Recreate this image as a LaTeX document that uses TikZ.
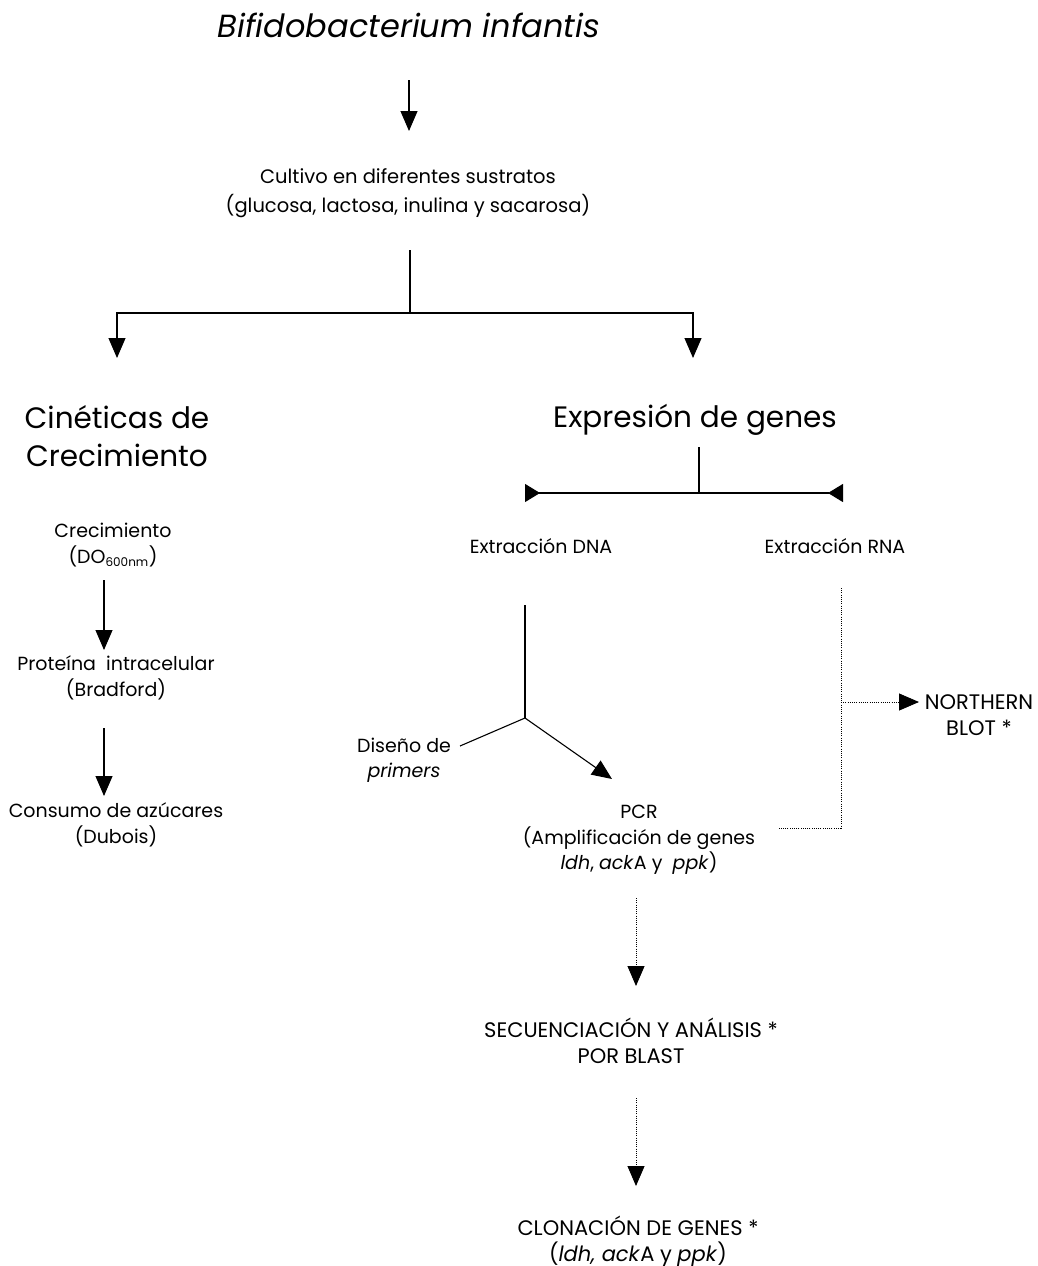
\documentclass[tikz,border=0pt]{standalone}
\usepackage{fontspec}
\setmainfont{Poppins}
\usetikzlibrary{arrows.meta}

\begin{document}
\begin{tikzpicture}[
  x=1pt, y=-1pt,
  every node/.style={font=\fontsize{19}{25.5}\selectfont, align=center, inner sep=0pt},
  caps/.style={font=\fontsize{21}{26}\selectfont},
  head/.style={font=\fontsize{29.5}{38}\selectfont},
  flow/.style={draw, line width=1.1pt, -{Triangle[width=17pt,length=20pt]}},
  link/.style={draw, line width=1.1pt},
  dotflow/.style={draw, line width=0.9pt, dash pattern=on 1pt off 1.2pt, -{Triangle[width=17pt,length=20pt]}},
  dotlink/.style={draw, line width=0.9pt, dash pattern=on 1pt off 1.2pt}
]
\useasboundingbox (0,0) rectangle (1037,1266);

% main trunk
\node (bifido) at (409,25) {\fontsize{32}{38}\selectfont\itshape Bifidobacterium infantis};
\coordinate (t1) at (409,80);
\coordinate (t2) at (409,131);
\draw [flow] (t1) -- (t2);

\node [font=\fontsize{19.5}{29}\selectfont] (cultivo) at (408,193) {Cultivo en diferentes sustratos\\(glucosa, lactosa, inulina y sacarosa)};
\coordinate (c0) at (410,250);
\coordinate (c1) at (410,313);
\coordinate (cl) at (117,358);
\coordinate (cr) at (693,358);
\draw [link] (c0) -- (c1);
\draw [flow] (c1) -| (cl);
\draw [flow] (c1) -| (cr);

% left branch
\node [head] (cinetica) at (117,436) {Cinéticas de\\Crecimiento};
\node (crec) at (113,545) {Crecimiento\\(DO\textsubscript{\fontsize{12}{12}\selectfont 600nm})};
\node (prot) at (116,678) {Proteína~ intracelular\\(Bradford)};
\node (consumo) at (116,825) {Consumo de azúcares\\(Dubois)};
\coordinate (l1) at (104,580);
\coordinate (l2) at (104,650);
\coordinate (l3) at (104,728);
\coordinate (l4) at (104,796);
\draw [flow] (l1) -- (l2);
\draw [flow] (l3) -- (l4);

% right branch
\node [head] (expresion) at (695,420) {Expresión de genes};
\coordinate (e0) at (699,447);
\coordinate (e1) at (699,493);
\coordinate (el) at (525,493);
\coordinate (er) at (843,493);
\draw [link] (e0) -- (e1);
\draw [link, {Triangle[reversed,width=18pt,length=15pt]}-{Triangle[reversed,width=18pt,length=15pt]}] (el) -- (er);

\node (dna) at (541,546) {Extracción DNA};
\node (rna) at (835,546) {Extracción RNA};

% DNA -> PCR
\coordinate (d0) at (525,605);
\coordinate (d1) at (525,718);
\coordinate (d2) at (612,779);
\coordinate (p0) at (460,746);
\node (primers) at (404,760) {Diseño de\\\itshape primers};
\draw [link] (d0) -- (d1);
\draw [link] (p0) -- (d1);
\draw [flow] (d1) -- (d2);

\node (pcr) at (639,840) {PCR\\(Amplificación de genes\\\textit{ldh}, \textit{ack}A y~ \textit{ppk})};

% RNA dotted
\coordinate (r0) at (841,588);
\coordinate (r1) at (841,828);
\coordinate (r2) at (779,828);
\coordinate (rn) at (841,702);
\coordinate (rt) at (919,702);
\draw [dotlink] (r0) -- (r1) -- (r2);
\draw [dotflow] (rn) -- (rt);
\node [caps] (northern) at (979,715) {NORTHERN\\BLOT *};

% sequencing and cloning
\coordinate (s0) at (636,898);
\coordinate (s1) at (636,986);
\draw [dotflow] (s0) -- (s1);
\node [caps] (secuencia) at (631,1041) {SECUENCIACIÓN Y ANÁLISIS *\\POR BLAST};
\coordinate (s2) at (636,1098);
\coordinate (s3) at (636,1186);
\draw [dotflow] (s2) -- (s3);
\node [caps] (clonacion) at (638,1241) {CLONACIÓN DE GENES *\\(\textit{ldh, ack}A y \textit{ppk})};
\end{tikzpicture}
\end{document}
